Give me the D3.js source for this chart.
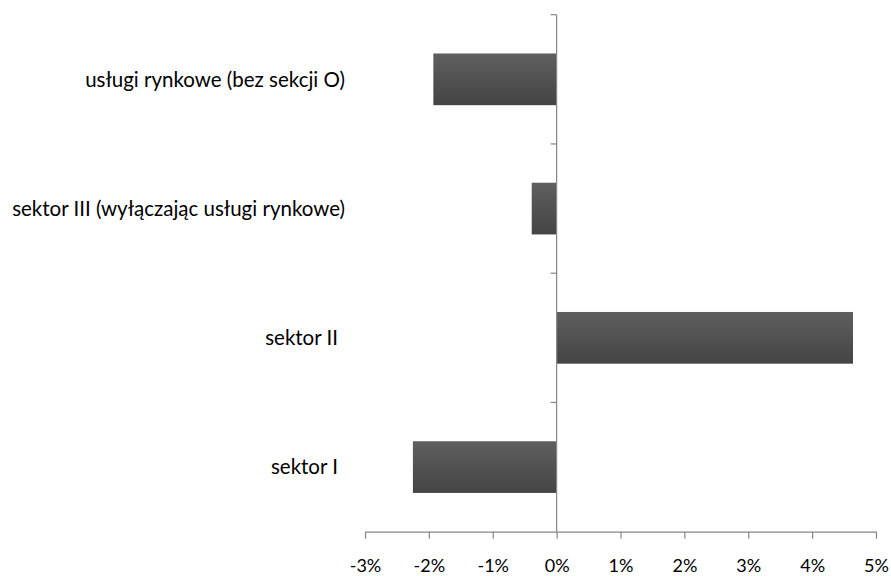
<!DOCTYPE html>
<html><head><meta charset="utf-8">
<script src="https://cdn.jsdelivr.net/npm/d3@7"></script>
<style>body{margin:0;background:#fff}svg{display:block}</style>
</head><body>
<svg id="c" width="891" height="576"></svg>
<script>
const categories = ["usługi rynkowe (bez sekcji O)", "sektor III (wyłączając usługi rynkowe)", "sektor II", "sektor I"];
const labelOffsets = [0, 0, 7, 7];
const values = [-1.93, -0.39, 4.64, -2.25];
const xTicks = [-3, -2, -1, 0, 1, 2, 3, 4, 5];

const svg = d3.select("#c");
const font = "Lato, 'Liberation Sans', sans-serif";
const x = d3.scaleLinear().domain([-3, 5]).range([365, 876]);
const y = d3.scaleBand().domain(categories).range([14.7, 531.7]).paddingInner(0.6).paddingOuter(0.3);

const defs = svg.append("defs");
const g = defs.append("linearGradient").attr("id", "bg").attr("x1", 0).attr("y1", 0).attr("x2", 0).attr("y2", 1);
g.append("stop").attr("offset", "0%").attr("stop-color", "#5f5f5f");
g.append("stop").attr("offset", "100%").attr("stop-color", "#444444");

// bars
svg.selectAll("rect.bar").data(values).join("rect")
  .attr("class", "bar")
  .attr("x", d => x(Math.min(0, d)))
  .attr("width", d => Math.abs(x(d) - x(0)))
  .attr("y", (d, i) => y(categories[i]))
  .attr("height", y.bandwidth())
  .attr("fill", "url(#bg)");

// x axis
const xAxis = svg.append("g").attr("transform", "translate(0,531.7)")
  .call(d3.axisBottom(x).tickValues(xTicks).tickSizeInner(7).tickSizeOuter(0).tickFormat(d => d + "%"));
xAxis.select(".domain").attr("stroke", "#868686").attr("stroke-width", 1.2);
xAxis.selectAll(".tick line").attr("stroke", "#868686").attr("stroke-width", 1.2);
xAxis.selectAll(".tick text").attr("y", 40.5).attr("dy", 0)
  .attr("font-family", font).attr("font-size", 18).attr("fill", "#000");

// y axis at zero
const yAxis = svg.append("g").attr("transform", `translate(${x(0)},0)`);
yAxis.append("line").attr("x1", 0).attr("x2", 0).attr("y1", 14.7).attr("y2", 531.7)
  .attr("stroke", "#868686").attr("stroke-width", 1.2);
const bounds = d3.range(categories.length + 1).map(i => 14.7 + i * y.step());
yAxis.selectAll("line.t").data(bounds.slice(0, -1)).join("line").attr("class", "t")
  .attr("x1", -6).attr("x2", 0).attr("y1", d => d).attr("y2", d => d)
  .attr("stroke", "#868686").attr("stroke-width", 1.2);

// category labels
svg.selectAll("text.cat").data(categories).join("text").attr("class", "cat")
  .attr("x", (d, i) => 345 - labelOffsets[i])
  .attr("y", d => y(d) + y.bandwidth() / 2)
  .attr("dy", "0.35em")
  .attr("text-anchor", "end")
  .attr("font-family", font).attr("font-size", 20.5).attr("fill", "#000")
  .text(d => d);
</script>
</body></html>
